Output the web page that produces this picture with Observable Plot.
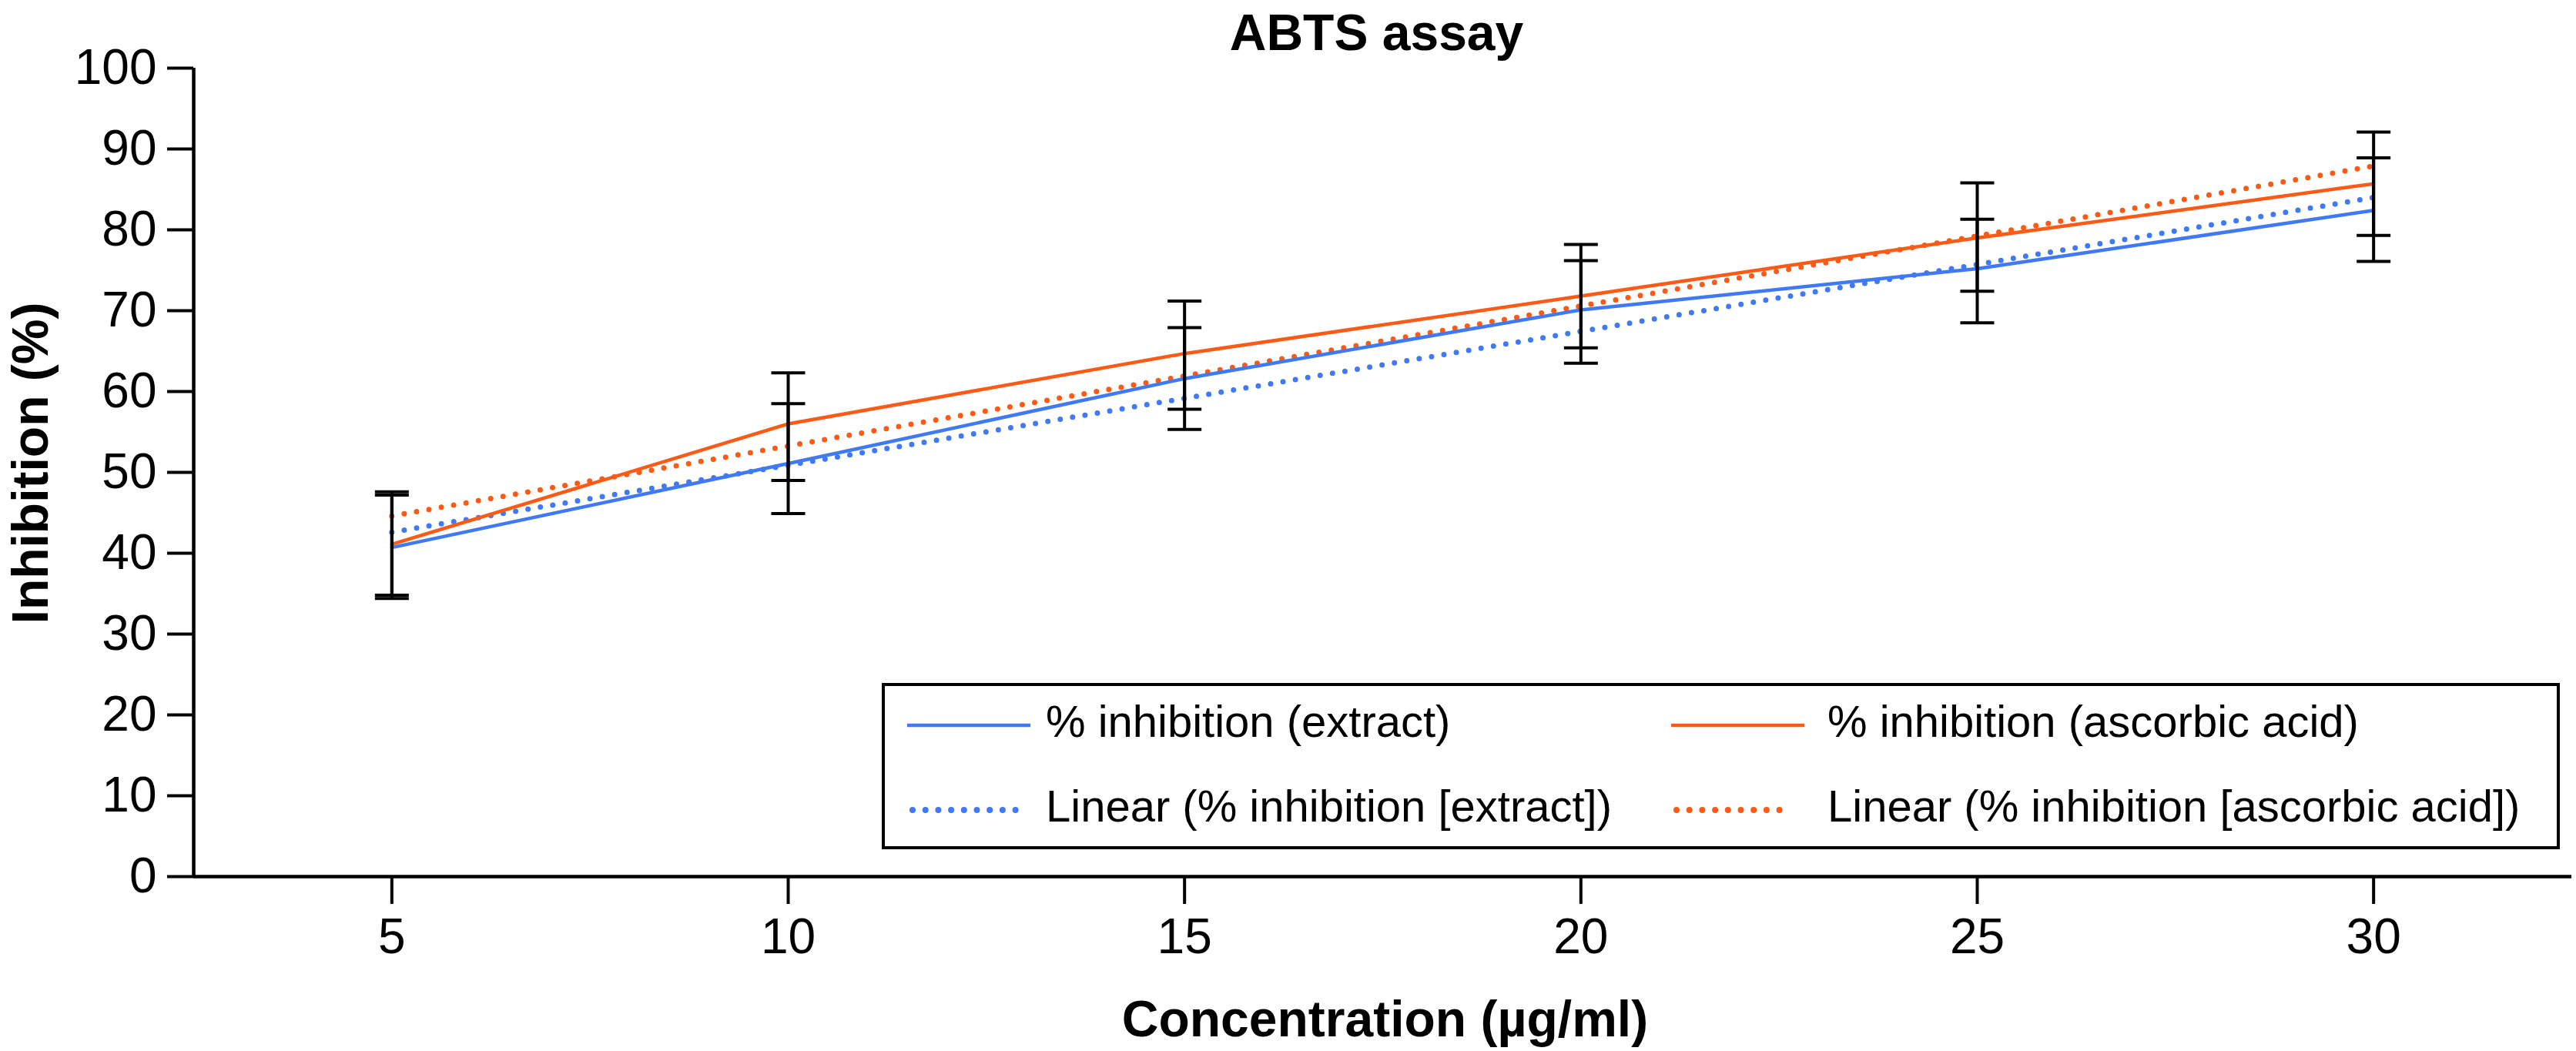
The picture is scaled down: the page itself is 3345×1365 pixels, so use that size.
<!DOCTYPE html>
<html>
<head>
<meta charset="utf-8">
<script src="https://cdn.jsdelivr.net/npm/d3@7"></script>
<script src="https://cdn.jsdelivr.net/npm/@observablehq/plot@0.6"></script>
<style>
  html, body { margin: 0; padding: 0; background: #fff; }
  #wrap { position: relative; width: 3345px; height: 1365px; font-family: "Liberation Sans", Arial, Helvetica, sans-serif; }
  #legend { position: absolute; box-sizing: border-box; background: #fff; border: 4px solid #000; }
</style>
</head>
<body>
<div id="wrap"></div>
<script>
// ---- data ----
const concentrations = [5, 10, 15, 20, 25, 30];
const extractValues  = [40.7, 51.1, 61.6, 70.1, 75.2, 82.4];
const extractLow     = [34.4, 44.9, 55.3, 63.5, 68.5, 76.1];
const extractHigh    = [47.2, 58.5, 67.9, 76.2, 81.3, 88.9];
const ascorbicValues = [41.1, 56.0, 64.7, 71.8, 79.0, 85.7];
const ascorbicLow    = [34.8, 49.0, 57.8, 65.4, 72.4, 79.3];
const ascorbicHigh   = [47.6, 62.3, 71.2, 78.2, 85.8, 92.1];
// linear trend lines (end points)
const trendX        = [5, 30];
const trendExtract  = [42.6, 84.0];
const trendAscorbic = [44.6, 87.9];
const xTicks = [5, 10, 15, 20, 25, 30];
const yTicks = [0, 10, 20, 30, 40, 50, 60, 70, 80, 90, 100];
const xDomain = [2.5, 32.5];
const yDomain = [0, 100];
const seriesNames = ["% inhibition (extract)", "% inhibition (ascorbic acid)",
                     "Linear (% inhibition [extract])", "Linear (% inhibition [ascorbic acid])"];
const titleText = "ABTS assay";
const xTitle = "Concentration (µg/ml)";
const yTitle = "Inhibition (%)";

const BLUE = "#4079f5";
const ORANGE = "#fd5a16";

const extractRows = concentrations.map((x, i) => ({x, y: extractValues[i], lo: extractLow[i], hi: extractHigh[i]}));
const ascorbicRows = concentrations.map((x, i) => ({x, y: ascorbicValues[i], lo: ascorbicLow[i], hi: ascorbicHigh[i]}));
const allRows = extractRows.concat(ascorbicRows);
const caps = allRows.flatMap(d => [{x: d.x, y: d.lo}, {x: d.x, y: d.hi}]);
const trendE = trendX.map((x, i) => ({x, y: trendExtract[i]}));
const trendA = trendX.map((x, i) => ({x, y: trendAscorbic[i]}));

const capSymbol = { draw(context) { context.moveTo(-22, 0); context.lineTo(22, 0); } };

const chart = Plot.plot({
  width: 3345,
  height: 1365,
  marginTop: 88,
  marginBottom: 227,
  marginLeft: 251,
  marginRight: 6,
  style: { fontFamily: "'Liberation Sans', Arial, Helvetica, sans-serif", background: "#fff", color: "#000" },
  x: { domain: xDomain },
  y: { domain: yDomain },
  marks: [
    Plot.axisY({ ticks: yTicks, tickSize: 34, tickPadding: 14, fontSize: 64, strokeWidth: 4, label: null, tickFormat: d => String(d) }),
    Plot.axisX({ ticks: xTicks, tickSize: 36, tickPadding: 18, fontSize: 64, strokeWidth: 4, label: null, tickFormat: d => String(d) }),
    Plot.ruleX([xDomain[0]], { y1: yDomain[0], y2: yDomain[1], strokeWidth: 4.5 }),
    Plot.ruleY([yDomain[0]], { strokeWidth: 4.5 }),
    Plot.line(trendE, { x: "x", y: "y", stroke: BLUE, strokeWidth: 7, strokeDasharray: "0 16.3", strokeLinecap: "round" }),
    Plot.line(trendA, { x: "x", y: "y", stroke: ORANGE, strokeWidth: 7, strokeDasharray: "0 16.3", strokeLinecap: "round" }),
    Plot.line(extractRows, { x: "x", y: "y", stroke: BLUE, strokeWidth: 4.5 }),
    Plot.line(ascorbicRows, { x: "x", y: "y", stroke: ORANGE, strokeWidth: 4.5 }),
    Plot.ruleX(allRows, { x: "x", y1: "lo", y2: "hi", stroke: "#000", strokeWidth: 4 }),
    Plot.dot(caps, { x: "x", y: "y", symbol: capSymbol, r: 10, fill: "none", stroke: "#000", strokeWidth: 4 }),
    Plot.text([titleText], { text: d => d, frameAnchor: "top", dx: -8, dy: -24, lineAnchor: "bottom", fontSize: 66, fontWeight: "bold" }),
    Plot.text([xTitle], { text: d => d, frameAnchor: "bottom", dx: 3, dy: 207, lineAnchor: "bottom", fontSize: 66, fontWeight: "bold" }),
    Plot.text([yTitle], { text: d => d, frameAnchor: "left", textAnchor: "middle", dx: -190, dy: -12, rotate: -90, lineAnchor: "bottom", fontSize: 66, fontWeight: "bold" })
  ]
});

const wrap = document.getElementById("wrap");
wrap.appendChild(chart);

// ---- legend (inside the plot area, as in the reference) ----
const legendItems = [
  { label: seriesNames[0], color: BLUE, dotted: false, col: 0, row: 0 },
  { label: seriesNames[1], color: ORANGE, dotted: false, col: 1, row: 0 },
  { label: seriesNames[2], color: BLUE, dotted: true, col: 0, row: 1 },
  { label: seriesNames[3], color: ORANGE, dotted: true, col: 1, row: 1 }
];
const legend = document.createElement("div");
legend.id = "legend";
Object.assign(legend.style, { left: "1145px", top: "887px", width: "2179px", height: "216px" });
wrap.appendChild(legend);
const lsvg = d3.select(legend).append("svg")
  .attr("width", 2171).attr("height", 208)
  .style("position", "absolute").style("left", "0px").style("top", "0px")
  .attr("font-family", "'Liberation Sans', Arial, Helvetica, sans-serif");
const colSample = [[29, 189], [1021, 1194]];
const colText = [209, 1224];
const rowY = [51, 161];
for (const it of legendItems) {
  const [x1, x2] = colSample[it.col];
  const y = rowY[it.row];
  lsvg.append("line")
    .attr("x1", it.dotted ? x1 + 7 : x1).attr("x2", x2 - (it.dotted ? 18 : 0))
    .attr("y1", y).attr("y2", y)
    .attr("stroke", it.color)
    .attr("stroke-width", it.dotted ? 8 : 4.5)
    .attr("stroke-linecap", it.dotted ? "round" : "butt")
    .attr("stroke-dasharray", it.dotted ? "0 16.7" : null);
  lsvg.append("text")
    .attr("x", colText[it.col]).attr("y", y + 15)
    .attr("font-size", 58)
    .attr("fill", "#000")
    .text(it.label);
}
</script>
</body>
</html>
